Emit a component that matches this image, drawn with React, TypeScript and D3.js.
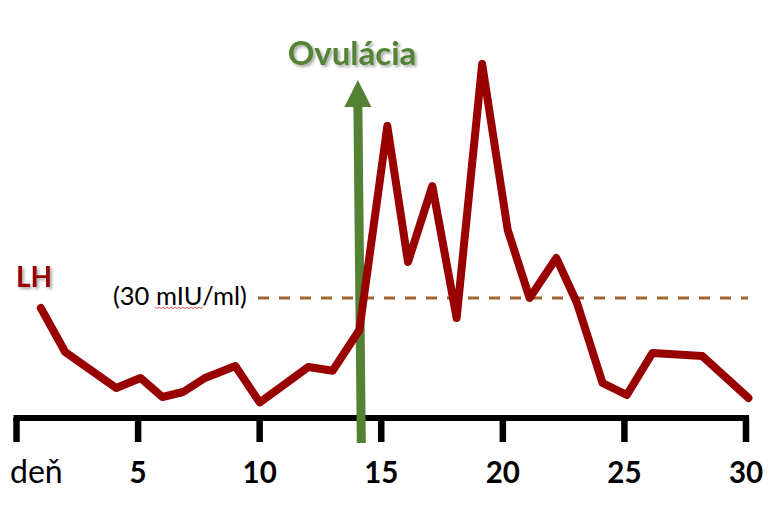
import React from "react";
import * as d3 from "d3";

const days = [1, 2, 4.1, 5.1, 6, 6.85, 7.75, 9, 10, 12, 13, 14.1, 15.25, 16.1, 17.1, 18.1, 19.15, 20.2, 21.1, 22.2, 23.05, 24.1, 25.1, 26.15, 28.2, 30.1];
const lhValues = [27.5, 16.5, 7.5, 10, 5.25, 6.5, 10, 13, 3.9, 12.75, 11.8, 22, 73, 39, 58, 25, 88.5, 47, 30, 40, 28.75, 8.75, 5.75, 16.25, 15.5, 5];
const tickDays = [0, 5, 10, 15, 20, 25, 30];
const tickLabels = ["", "5", "10", "15", "20", "25", "30"];
const threshold = 30;
const ovulationDay = 14;

const W = 778;
const H = 510;

export default function App() {
  const x = d3.scaleLinear().domain([0, 30]).range([16.5, 746]);
  const y = d3.scaleLinear().domain([0, 90]).range([418, 58]);
  const pts: [number, number][] = days.map((d, i) => [d, lhValues[i]]);
  const line = d3
    .line<[number, number]>()
    .x((d) => x(d[0]))
    .y((d) => y(d[1]));

  const axisY = y(0);
  const ax0 = x(ovulationDay + 0.18);
  const ax1 = x(ovulationDay + 0.04);
  const shaftTop = y(77.75);
  const tipY = y(84.5);
  const shaftBottom = axisY + 25;
  const sw = 4.5;
  const hw = 13.5;
  const arrowPts = [
    [ax0 - sw, shaftBottom],
    [ax1 - sw, shaftTop],
    [ax1 - hw, shaftTop],
    [ax1, tipY],
    [ax1 + hw, shaftTop],
    [ax1 + sw, shaftTop],
    [ax0 + sw, shaftBottom],
  ]
    .map((p) => p.join(","))
    .join(" ");

  const sq: string[] = [];
  for (let i = 0; i <= 24; i++) {
    const sx = 155 + i * 2;
    const sy = 307 + (i % 2 === 0 ? 0 : 1.6);
    sq.push(`${i === 0 ? "M" : "L"}${sx},${sy}`);
  }

  const font = "Lato, 'Open Sans', sans-serif";

  return (
    <svg width={W} height={H} style={{ display: "block", position: "absolute", left: 0, top: 0 }}>
      <defs>
        <filter id="sh" x="-20%" y="-20%" width="140%" height="160%">
          <feDropShadow dx="2" dy="2" stdDeviation="1.5" floodColor="#000" floodOpacity="0.35" />
        </filter>
      </defs>
      <rect width={W} height={H} fill="#fff" />

      <line
        x1={258}
        x2={748}
        y1={y(threshold)}
        y2={y(threshold)}
        stroke="#A0652E"
        strokeWidth={3}
        strokeDasharray="11 10"
      />
      <text x={113} y={305} fontFamily={font} fontSize={25.5} fill="#000">
        (30 mIU/ml)
      </text>
      <path d={sq.join("")} fill="none" stroke="#e03030" strokeWidth={0.8} />

      <line x1={13.5} x2={749} y1={axisY} y2={axisY} stroke="#000" strokeWidth={6} />
      {tickDays.map((d) => (
        <line key={d} x1={x(d)} x2={x(d)} y1={axisY} y2={axisY + 24} stroke="#000" strokeWidth={6.5} />
      ))}
      {tickDays.map((d, i) =>
        tickLabels[i] ? (
          <text
            key={"l" + d}
            x={x(d)}
            y={483}
            textAnchor="middle"
            fontFamily={font}
            fontWeight="bold"
            fontSize={29.5}
            fill="#000"
          >
            {tickLabels[i]}
          </text>
        ) : null
      )}
      <text x={10} y={483} fontFamily={font} fontSize={32} fill="#000">
        deň
      </text>

      <polygon points={arrowPts} fill="#548235" />
      <text
        x={352}
        y={65}
        textAnchor="middle"
        fontFamily={font}
        fontWeight="bold"
        fontSize={33}
        fill="#548235"
        filter="url(#sh)"
      >
        Ovulácia
      </text>

      <path
        d={line(pts) || ""}
        fill="none"
        stroke="#990000"
        strokeWidth={8}
        strokeLinejoin="round"
        strokeLinecap="round"
      />
      <text
        x={16}
        y={287}
        fontFamily={font}
        fontWeight="bold"
        fontSize={28}
        fill="#990000"
        filter="url(#sh)"
      >
        LH
      </text>
    </svg>
  );
}
